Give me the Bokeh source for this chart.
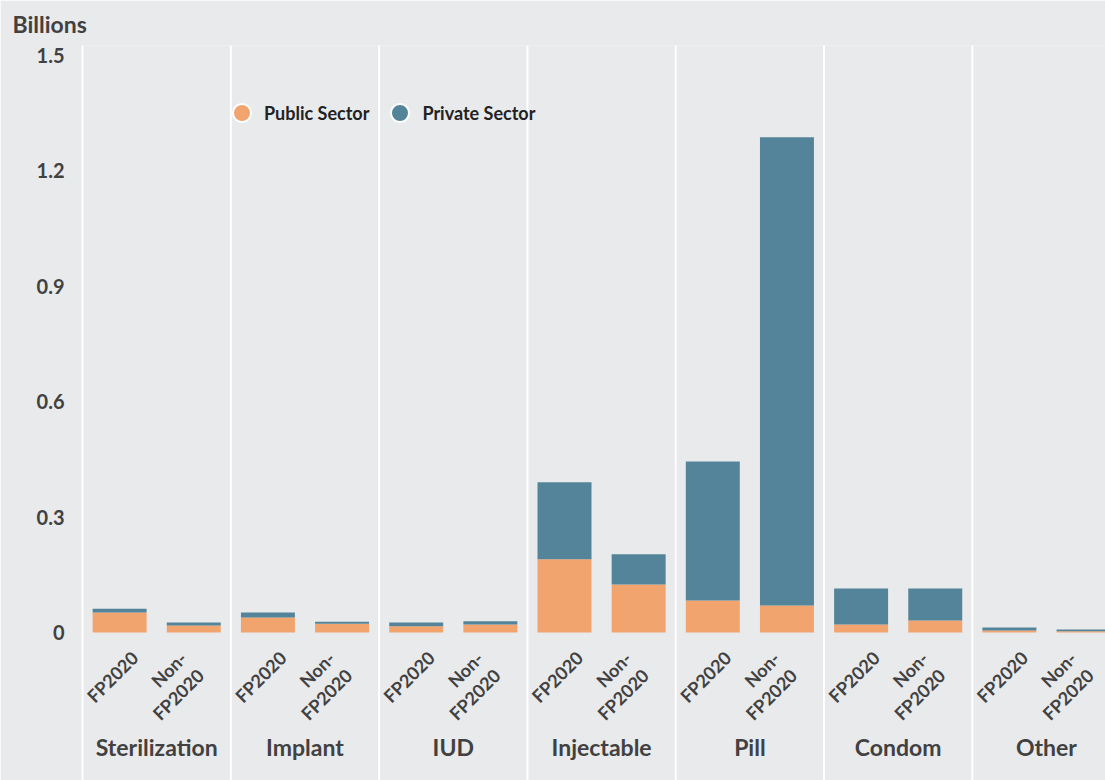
from bokeh.plotting import figure
from bokeh.models import ColumnDataSource, Legend, LegendItem, FixedTicker, Range1d, Title
from bokeh.core.properties import value
from bokeh.embed import file_html
from bokeh.resources import INLINE

# ---- data ----
methods = ["Sterilization", "Implant", "IUD", "Injectable", "Pill", "Condom", "Other"]
subgroups = ["FP2020", "Non-\nFP2020"]
public_fp = [0.052, 0.039, 0.016, 0.190, 0.083, 0.021, 0.005]
private_fp = [0.010, 0.013, 0.010, 0.200, 0.361, 0.0935, 0.008]
public_non = [0.018, 0.023, 0.021, 0.125, 0.070, 0.031, 0.003]
private_non = [0.008, 0.005, 0.008, 0.078, 1.2165, 0.083, 0.005]
y_ticks = [0, 0.3, 0.6, 0.9, 1.2, 1.5]
y_tick_labels = ["0", "0.3", "0.6", "0.9", "1.2", "1.5"]
series = ["Public Sector", "Private Sector"]

# ---- styles ----
BG = "#e9eaec"
ORANGE = "#f2a46f"
TEAL = "#538499"
TXT = "#414141"
FONT = "Lato"

n = len(methods)
xs, pub, priv, sub = [], [], [], []
for i in range(n):
    xs += [i + 0.25, i + 0.75]
    pub += [public_fp[i], public_non[i]]
    priv += [private_fp[i], private_non[i]]
    sub += subgroups
src = ColumnDataSource(dict(x=xs, public=pub, private=priv, sub=sub,
                            xo=[15 if s == "FP2020" else -2 for s in sub],
                            yo=[22 if s == "FP2020" else 31 for s in sub]))

y0, y1 = -0.3844, 1.5247
p = figure(width=1105, height=780, output_backend="svg", toolbar_location=None,
           x_range=Range1d(-0.007, 6.898), y_range=Range1d(y0, y1),
           min_border_left=81, min_border_right=0, min_border_top=45, min_border_bottom=0)
p.background_fill_color = BG
p.border_fill_color = BG
p.outline_line_color = None
p.xgrid.visible = False
p.ygrid.visible = False
p.xaxis.visible = False

ax = p.yaxis[0]
ax.ticker = FixedTicker(ticks=y_ticks)
ax.major_label_overrides = {t: l for t, l in zip(y_ticks, y_tick_labels)}
ax.axis_line_color = None
ax.major_tick_line_color = None
ax.minor_tick_line_color = None
ax.major_tick_out = 0
ax.major_label_standoff = 17
ax.major_label_text_font = FONT
ax.major_label_text_font_style = "bold"
ax.major_label_text_font_size = "20px"
ax.major_label_text_color = TXT

# separators
bounds = list(range(n))
p.segment(x0=bounds, x1=bounds, y0=[y0] * n, y1=[y1] * n, line_color="white", line_width=2)

# bars
p.vbar_stack(["public", "private"], x="x", width=0.364, source=src,
             color=[ORANGE, TEAL], line_color=None)

# subgroup labels
p.text(x="x", y=0, text="sub", source=src, angle=0.785398, x_offset="xo", y_offset="yo",
       text_align="right", text_baseline="middle", text_font=value(FONT),
       text_font_style="bold", text_font_size="18px", text_color=TXT, text_line_height=1.1)

# group labels
p.text(x=[i + 0.5 for i in range(n)], y=[0] * n, text=methods, y_offset=114,
       text_align="center", text_baseline="middle", text_font=value(FONT),
       text_font_style="bold", text_font_size="23px", text_color=TXT)

# legend (marker-only renderers placed outside the visible range)
r1 = p.scatter(x=[-10], y=[-10], size=18, fill_color=ORANGE, line_color="white", line_width=2)
r2 = p.scatter(x=[-10], y=[-10], size=18, fill_color=TEAL, line_color="white", line_width=2)
leg = Legend(items=[LegendItem(label=series[0], renderers=[r1]),
                    LegendItem(label=series[1], renderers=[r2])],
             orientation="horizontal", location=(138, 645),
             border_line_color=None, background_fill_alpha=0, padding=0, margin=0,
             glyph_width=45, glyph_height=45, label_standoff=0, spacing=8,
             label_text_font=FONT, label_text_font_style="bold",
             label_text_font_size="18px", label_text_color="#222222")
p.add_layout(leg, "center")

t = Title(text="Billions", align="left", offset=-69, standoff=15, text_font=FONT,
          text_font_style="bold", text_font_size="23px", text_color=TXT)
p.add_layout(t, "above")

html = file_html(p, INLINE)
html = html.replace("<body>", '<body style="background:%s">' % BG, 1)
open("out.html", "w").write(html)
